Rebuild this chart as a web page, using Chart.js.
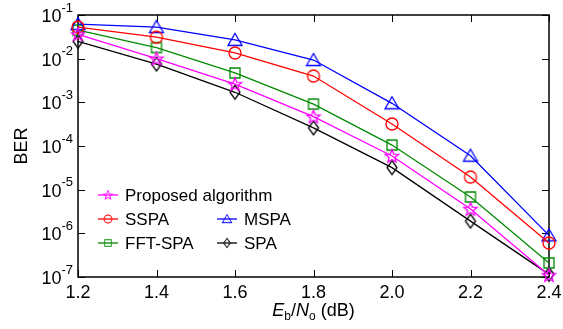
<!DOCTYPE html>
<html>
<head>
<meta charset="utf-8">
<script src="https://cdn.jsdelivr.net/npm/chart.js@4.4.1/dist/chart.umd.min.js"></script>
<style>
html, body { margin: 0; padding: 0; background: #fff; }
#wrap { width: 563px; height: 329px; position: relative; }
</style>
</head>
<body>
<div id="wrap"><canvas id="berChart"></canvas></div>
<script>
// Eb/No values (dB)
var snr = [1.2, 1.4, 1.6, 1.8, 2.0, 2.2, 2.4];
// BER per decoder
var proposed = [3.6e-2, 1.0e-2, 2.6e-3, 4.7e-4, 5.9e-5, 3.6e-6, 1.1e-7];
var sspa = [5.3e-2, 3.1e-2, 1.35e-2, 4.0e-3, 3.2e-4, 1.95e-5, 6.0e-7];
var mspa = [6.2e-2, 5.3e-2, 2.7e-2, 9.3e-3, 9.5e-4, 6.0e-5, 9.0e-7];
var fftSpa = [4.5e-2, 1.8e-2, 4.7e-3, 9.1e-4, 1.05e-4, 6.8e-6, 2.1e-7];
var spa = [2.5e-2, 7.5e-3, 1.7e-3, 2.6e-4, 3.2e-5, 1.9e-6, 1.15e-7];
// tick labels
var xTicks = [1.2, 1.4, 1.6, 1.8, 2.0, 2.2, 2.4];
var xTickLabels = ["1.2", "1.4", "1.6", "1.8", "2.0", "2.2", "2.4"];
var yExps = [-1, -2, -3, -4, -5, -6, -7];

var FONT = "'Liberation Sans', Arial, sans-serif";

function makeMarker(kind, color) {
    var c = document.createElement("canvas");
    c.width = 18; c.height = 18;
    var g = c.getContext("2d");
    g.strokeStyle = color;
    g.lineWidth = 1.3;
    g.beginPath();
    if (kind === "circle") {
        g.arc(9, 9, 6, 0, Math.PI * 2);
    } else if (kind === "triangle") {
        g.moveTo(9, 2.5); g.lineTo(16, 14.5); g.lineTo(2, 14.5); g.closePath();
    } else if (kind === "square") {
        g.rect(4, 4, 10, 10);
    } else if (kind === "diamond") {
        g.moveTo(9, 2); g.lineTo(14, 9); g.lineTo(9, 16); g.lineTo(4, 9); g.closePath();
    } else if (kind === "star") {
        for (var i = 0; i < 10; i++) {
            var r = i % 2 === 0 ? 7 : 3;
            var a = -Math.PI / 2 + i * Math.PI / 5;
            var px = 9 + r * Math.cos(a), py = 9.5 + r * Math.sin(a);
            if (i === 0) g.moveTo(px, py); else g.lineTo(px, py);
        }
        g.closePath();
    }
    g.stroke();
    return c;
}

function pts(ys) {
    return snr.map(function (x, i) { return { x: x, y: ys[i] }; });
}

var series = [
    { label: "Proposed algorithm", data: proposed, color: "#ff00ff", marker: "star" },
    { label: "SSPA", data: sspa, color: "#ff0000", marker: "circle" },
    { label: "MSPA", data: mspa, color: "#0000ff", marker: "triangle" },
    { label: "FFT-SPA", data: fftSpa, color: "#008a00", marker: "square" },
    { label: "SPA", data: spa, color: "#000000", marker: "diamond" }
];
series.forEach(function (s) { s.img = makeMarker(s.marker, s.color); });

var framePlugin = {
    id: "frame",
    beforeDatasetsDraw: function (chart) {
        var ctx = chart.ctx, a = chart.chartArea;
        var xs = chart.scales.x, ys = chart.scales.y;
        ctx.save();
        ctx.strokeStyle = "#000";
        ctx.lineWidth = 1.5;
        ctx.strokeRect(a.left, a.top, a.right - a.left, a.bottom - a.top);
        ctx.lineWidth = 1;
        ctx.beginPath();
        xTicks.forEach(function (v) {
            var px = Math.round(xs.getPixelForValue(v)) + 0.5;
            ctx.moveTo(px, a.bottom); ctx.lineTo(px, a.bottom - 7);
            ctx.moveTo(px, a.top); ctx.lineTo(px, a.top + 7);
        });
        yExps.forEach(function (e) {
            var py = Math.round(ys.getPixelForValue(Math.pow(10, e))) + 0.5;
            ctx.moveTo(a.left, py); ctx.lineTo(a.left + 7, py);
            ctx.moveTo(a.right, py); ctx.lineTo(a.right - 7, py);
        });
        ctx.stroke();
        ctx.restore();
    },
    afterDraw: function (chart) {
        var ctx = chart.ctx, a = chart.chartArea;
        var xs = chart.scales.x, ys = chart.scales.y;
        ctx.save();
        ctx.fillStyle = "#000";
        // x tick labels
        ctx.font = "18px " + FONT;
        ctx.textAlign = "center";
        ctx.textBaseline = "top";
        xTicks.forEach(function (v, i) {
            ctx.fillText(xTickLabels[i], xs.getPixelForValue(v), a.bottom + 7);
        });
        // y tick labels 10^e
        yExps.forEach(function (e) {
            var py = ys.getPixelForValue(Math.pow(10, e));
            ctx.textBaseline = "middle";
            ctx.font = "13px " + FONT;
            var expW = ctx.measureText(String(e)).width;
            ctx.textAlign = "left";
            var baseRight = a.left - 5 - expW;
            ctx.fillText(String(e), baseRight, py - 7);
            ctx.font = "18px " + FONT;
            ctx.textAlign = "right";
            ctx.fillText("10", baseRight, py + 2);
        });
        // y title
        ctx.save();
        ctx.translate(22, (a.top + a.bottom) / 2);
        ctx.rotate(-Math.PI / 2);
        ctx.font = "18px " + FONT;
        ctx.textAlign = "center";
        ctx.textBaseline = "middle";
        ctx.fillText("BER", 0, 0);
        ctx.restore();
        // x title: Eb/No (dB)
        var parts = [
            { t: "E", f: "italic 18px " + FONT, dy: 0 },
            { t: "b", f: "12px " + FONT, dy: 4 },
            { t: "/", f: "18px " + FONT, dy: 0 },
            { t: "N", f: "italic 18px " + FONT, dy: 0 },
            { t: "o", f: "12px " + FONT, dy: 4 },
            { t: " (dB)", f: "18px " + FONT, dy: 0 }
        ];
        var total = 0;
        parts.forEach(function (p) { ctx.font = p.f; p.w = ctx.measureText(p.t).width; total += p.w; });
        var cx = (a.left + a.right) / 2 - total / 2;
        ctx.textAlign = "left";
        ctx.textBaseline = "alphabetic";
        parts.forEach(function (p) {
            ctx.font = p.f;
            ctx.fillText(p.t, cx, 316 + p.dy);
            cx += p.w;
        });
        // legend (smaller markers than in the plot)
        var legendPos = [
            { x: 98, y: 195 },
            { x: 98, y: 219 },
            { x: 217, y: 219 },
            { x: 98, y: 243 },
            { x: 217, y: 243 }
        ];
        ctx.font = "17px " + FONT;
        ctx.textBaseline = "middle";
        series.forEach(function (s, i) {
            var p = legendPos[i];
            ctx.strokeStyle = s.color;
            ctx.lineWidth = 1.3;
            ctx.beginPath();
            ctx.moveTo(p.x, p.y); ctx.lineTo(p.x + 20, p.y);
            ctx.stroke();
            ctx.drawImage(s.img, p.x + 10 - 6, p.y - 6, 12, 12);
            ctx.fillStyle = "#000";
            ctx.fillText(s.label, p.x + 27, p.y + 1);
        });
        ctx.restore();
    }
};

document.addEventListener("DOMContentLoaded", function () {
    var ctx = document.getElementById("berChart").getContext("2d");
    new Chart(ctx, {
        type: "line",
        data: {
            datasets: series.map(function (s) {
                return {
                    label: s.label,
                    data: pts(s.data),
                    borderColor: s.color,
                    borderWidth: 1.3,
                    pointStyle: s.img,
                    pointRadius: 6,
                    fill: false,
                    tension: 0,
                    clip: false
                };
            })
        },
        options: {
            responsive: true,
            maintainAspectRatio: false,
            animation: false,
            layout: { padding: { left: 78, right: 14, top: 15, bottom: 52 } },
            scales: {
                x: { type: "linear", min: 1.2, max: 2.4, display: false },
                y: { type: "logarithmic", min: 1e-7, max: 1e-1, display: false }
            },
            plugins: {
                legend: { display: false },
                tooltip: { enabled: false }
            }
        },
        plugins: [framePlugin]
    });
});
</script>
</body>
</html>
